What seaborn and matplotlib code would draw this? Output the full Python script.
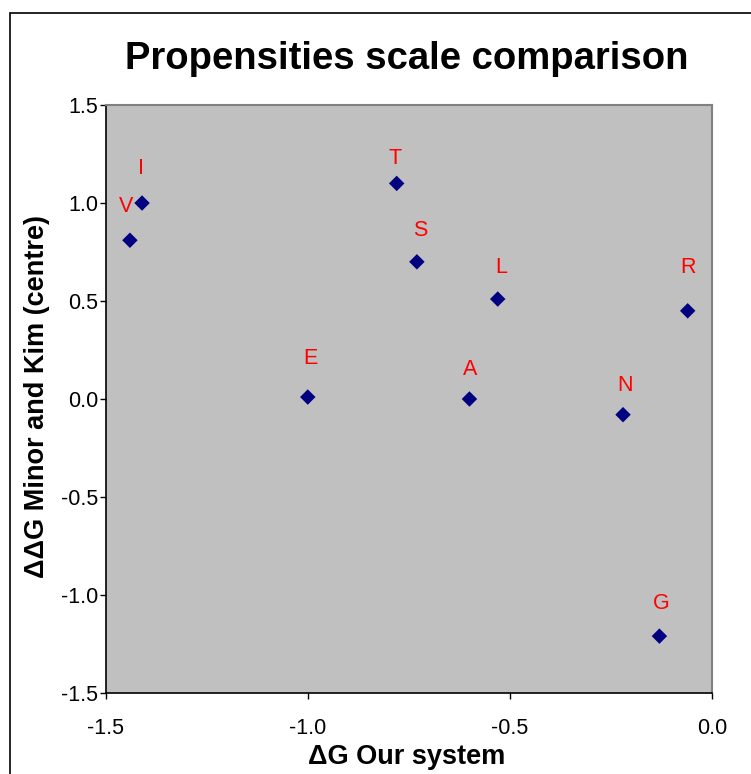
import matplotlib
matplotlib.use("Agg")
import matplotlib.pyplot as plt
from matplotlib.patches import Rectangle
import seaborn as sns
import pandas as pd

# Amino-acid propensity values on the two scales
residues = ["V", "I", "T", "S", "L", "E", "A", "N", "R", "G"]
dg_our_system = [-1.44, -1.41, -0.78, -0.73, -0.53, -1.00, -0.60, -0.22, -0.06, -0.13]
ddg_minor_kim = [0.81, 1.00, 1.10, 0.70, 0.51, 0.01, 0.00, -0.08, 0.45, -1.21]

x_ticks = [-1.5, -1.0, -0.5, 0.0]
y_ticks = [-1.5, -1.0, -0.5, 0.0, 0.5, 1.0, 1.5]

# label placement (pixels right / up from each marker)
label_offsets = {
    "V": (-4, 34), "I": (-1, 35), "T": (-2, 25), "S": (3, 31), "L": (4, 32),
    "E": (3, 39), "A": (1, 29), "N": (2, 29), "R": (0, 43), "G": (2, 33),
}

df = pd.DataFrame({"residue": residues, "dg": dg_our_system, "ddg": ddg_minor_kim})

sns.set_style("white")
plt.rcParams["font.family"] = ["Liberation Sans", "DejaVu Sans"]
plt.rcParams["axes.unicode_minus"] = False

DPI = 100
fig = plt.figure(figsize=(7.51, 7.74), dpi=DPI)
ax = fig.add_axes([0.1407, 0.1047, 0.8073, 0.7596])
ax.set_facecolor("#C0C0C0")

sns.scatterplot(data=df, x="dg", y="ddg", marker="D", s=62, color="#000080",
                edgecolor="none", linewidth=0, ax=ax, zorder=3)

px2pt = 72.0 / DPI
for _, row in df.iterrows():
    dx, dy = label_offsets[row["residue"]]
    ax.annotate(row["residue"], (row["dg"], row["ddg"]),
                xytext=(dx * px2pt, dy * px2pt), textcoords="offset points",
                ha="center", va="center", color="#FF0000", fontsize=15.5)

ax.set_xlim(-1.5, 0.0)
ax.set_ylim(-1.5, 1.5)
ax.set_xticks(x_ticks)
ax.set_yticks(y_ticks)
ax.set_xticklabels([f"{v:.1f}" for v in x_ticks])
ax.set_yticklabels([f"{v:.1f}" for v in y_ticks])
ax.tick_params(axis="x", direction="out", length=4.5, width=1, color="black",
               pad=13.5, labelsize=15.5, labelcolor="black", bottom=True)
ax.tick_params(axis="y", direction="out", length=4, width=1, color="black",
               pad=1.5, labelsize=15.5, labelcolor="black", left=True)
ax.set_xlabel("")
ax.set_ylabel("")

for side in ["left", "bottom"]:
    ax.spines[side].set_color("black")
    ax.spines[side].set_linewidth(1.2)
for side in ["top", "right"]:
    ax.spines[side].set_color("#808080")
    ax.spines[side].set_linewidth(1.5)

W, H = 751, 774
fig.text(407 / W, 1 - 59 / H, "Propensities scale comparison", ha="center",
         va="center", fontsize=27.5, fontweight="bold", color="black")
fig.text(407 / W, 1 - 757 / H, "\u0394G Our system", ha="center", va="center",
         fontsize=19.5, fontweight="bold", color="black")
fig.text(37 / W, 1 - 397 / H, "\u0394\u0394G Minor and Kim (centre)", ha="center",
         va="center", rotation=90, fontsize=19.5, fontweight="bold", color="black")

# chart-area frame
fig.patches.append(Rectangle((10 / W, -0.05), 1.1, 1 - 13 / H + 0.05,
                             transform=fig.transFigure, fill=False,
                             edgecolor="black", linewidth=1.2))

fig.savefig("out.png", dpi=DPI)
